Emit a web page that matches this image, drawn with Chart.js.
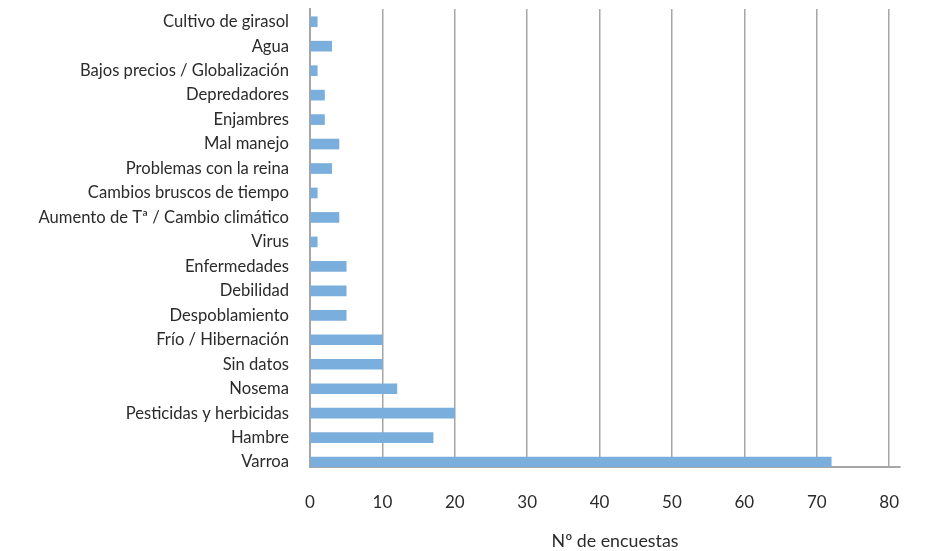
<!DOCTYPE html>
<html>
<head>
<meta charset="utf-8">
<title>Causas de pérdida de colmenas</title>
<script src="https://cdn.jsdelivr.net/npm/chart.js@4/dist/chart.umd.min.js"></script>
<style>
  html, body { margin: 0; padding: 0; background: #ffffff; }
  #wrap { width: 947px; height: 551px; position: relative; }
</style>
</head>
<body>
<div id="wrap"><canvas id="chart"></canvas></div>
<script>
// Causes reported, top to bottom
const categories = [
  'Cultivo de girasol',
  'Agua',
  'Bajos precios / Globalización',
  'Depredadores',
  'Enjambres',
  'Mal manejo',
  'Problemas con la reina',
  'Cambios bruscos de tiempo',
  'Aumento de Tª / Cambio climático',
  'Virus',
  'Enfermedades',
  'Debilidad',
  'Despoblamiento',
  'Frío / Hibernación',
  'Sin datos',
  'Nosema',
  'Pesticidas y herbicidas',
  'Hambre',
  'Varroa'
];

// Number of surveys citing each cause
const surveys = [1, 3, 1, 2, 2, 4, 3, 1, 4, 1, 5, 5, 5, 10, 10, 12, 20, 17, 72];

// Value axis ticks
const xTicks = [0, 10, 20, 30, 40, 50, 60, 70, 80];

const axisTitle = 'Nº de encuestas';

const FONT = 'Lato, "Open Sans", sans-serif';
const TEXT = '#2b2b2b';
const GRID = '#a6a6a6';

// Draws the value-axis caption under the tick labels
const axisTitlePlugin = {
  id: 'axisTitle',
  afterDraw(chart) {
    const sx = chart.scales.x;
    const ctx = chart.ctx;
    ctx.save();
    ctx.font = '17.8px ' + FONT;
    ctx.fillStyle = TEXT;
    ctx.textAlign = 'center';
    ctx.textBaseline = 'middle';
    ctx.fillText(axisTitle, (sx.left + sx.right) / 2 + 10, sx.bottom - 9.5);
    ctx.restore();
  }
};

function build() {
  new Chart(document.getElementById('chart'), {
    type: 'bar',
    data: {
      datasets: [{
        data: surveys.map((v, i) => ({ x: v, y: i })),
        backgroundColor: '#7aaedc',
        borderWidth: 0,
        barThickness: 10
      }]
    },
    plugins: [axisTitlePlugin],
    options: {
      indexAxis: 'y',
      responsive: true,
      maintainAspectRatio: false,
      animation: false,
      layout: { padding: { top: 9, right: 47, bottom: 0, left: 0 } },
      plugins: {
        legend: { display: false },
        tooltip: { enabled: false }
      },
      scales: {
        x: {
          type: 'linear',
          min: 0,
          max: 81.5,
          afterBuildTicks(scale) {
            scale.ticks = xTicks.map(v => ({ value: v }));
          },
          afterFit(scale) {
            scale.height = 84;
            scale.paddingLeft = 0;
            scale.paddingRight = 0;
          },
          grid: { color: GRID, lineWidth: 1.5, drawTicks: false },
          border: { color: GRID, width: 2 },
          ticks: {
            padding: 25,
            color: TEXT,
            font: { family: FONT, size: 17 }
          }
        },
        y: {
          type: 'linear',
          reverse: true,
          offset: false,
          min: -0.52,
          max: 18.2,
          afterBuildTicks(scale) {
            scale.ticks = categories.map((_, i) => ({ value: i }));
          },
          afterFit(scale) {
            scale.width = 310;
            scale.paddingTop = 0;
            scale.paddingBottom = 0;
          },
          grid: { display: false, drawTicks: false, offset: false },
          border: { color: GRID, width: 2 },
          ticks: {
            padding: 21,
            color: TEXT,
            font: { family: FONT, size: 16.6 },
            callback: (v) => categories[v]
          }
        }
      }
    }
  });
}

if (document.fonts && document.fonts.load) {
  document.fonts.load('16px Lato').then(build, build);
} else {
  build();
}
</script>
</body>
</html>
